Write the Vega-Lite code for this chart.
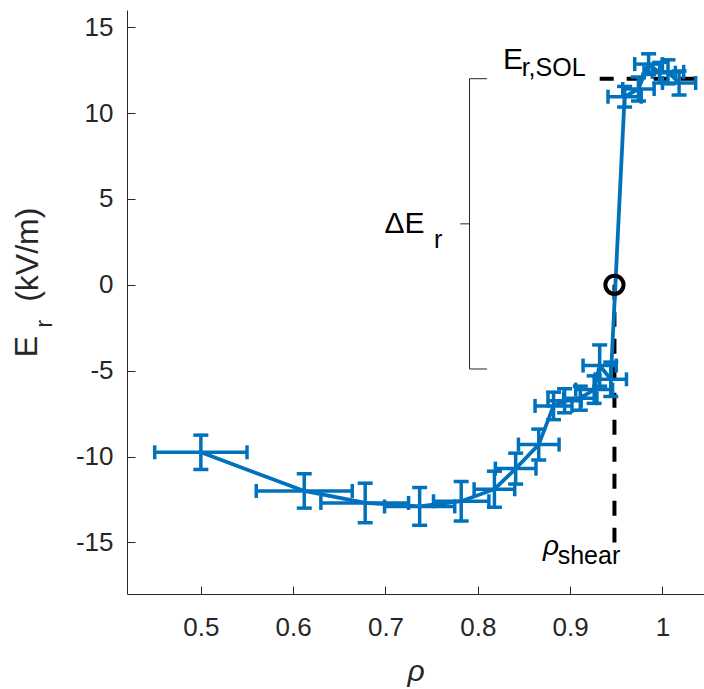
{
  "$schema": "https://vega.github.io/schema/vega-lite/v6.json",
  "width": 577,
  "height": 584,
  "autosize": {"type": "none"},
  "padding": {"left": 127, "top": 10, "right": 0, "bottom": 95},
  "background": "white",
  "config": {
    "view": {"stroke": null},
    "font": "Liberation Sans",
    "axis": {"grid": false, "domainColor": "#262626", "tickColor": "#262626", "labelColor": "#262626", "titleColor": "#262626", "labelFont": "Liberation Sans", "titleFont": "Liberation Sans", "labelFontSize": 26, "domainWidth": 1, "tickWidth": 1}
  },
  "datasets": {
    "er": [
      {"x": 0.500, "y": -9.75, "xlo": 0.450, "xhi": 0.550, "ylo": -10.75, "yhi": -8.75},
      {"x": 0.612, "y": -12.0, "xlo": 0.560, "xhi": 0.664, "ylo": -13.0, "yhi": -11.0},
      {"x": 0.678, "y": -12.7, "xlo": 0.630, "xhi": 0.725, "ylo": -13.85, "yhi": -11.55},
      {"x": 0.737, "y": -12.9, "xlo": 0.699, "xhi": 0.775, "ylo": -14.0, "yhi": -11.8},
      {"x": 0.782, "y": -12.6, "xlo": 0.752, "xhi": 0.812, "ylo": -13.75, "yhi": -11.45},
      {"x": 0.818, "y": -11.9, "xlo": 0.796, "xhi": 0.840, "ylo": -12.95, "yhi": -10.85},
      {"x": 0.841, "y": -10.7, "xlo": 0.819, "xhi": 0.863, "ylo": -11.6, "yhi": -9.8},
      {"x": 0.866, "y": -9.3, "xlo": 0.844, "xhi": 0.888, "ylo": -10.2, "yhi": -8.4},
      {"x": 0.882, "y": -7.05, "xlo": 0.862, "xhi": 0.902, "ylo": -7.85, "yhi": -6.25},
      {"x": 0.894, "y": -6.75, "xlo": 0.876, "xhi": 0.912, "ylo": -7.45, "yhi": -6.05},
      {"x": 0.911, "y": -6.6, "xlo": 0.893, "xhi": 0.929, "ylo": -7.3, "yhi": -5.9},
      {"x": 0.926, "y": -6.1, "xlo": 0.906, "xhi": 0.946, "ylo": -6.9, "yhi": -5.3},
      {"x": 0.932, "y": -4.7, "xlo": 0.914, "xhi": 0.950, "ylo": -5.9, "yhi": -3.5},
      {"x": 0.944, "y": -5.5, "xlo": 0.927, "xhi": 0.961, "ylo": -6.5, "yhi": -4.5},
      {"x": 0.959, "y": 10.95, "xlo": 0.941, "xhi": 0.977, "ylo": 10.35, "yhi": 11.55},
      {"x": 0.974, "y": 11.4, "xlo": 0.957, "xhi": 0.991, "ylo": 10.7, "yhi": 12.1},
      {"x": 0.985, "y": 12.85, "xlo": 0.970, "xhi": 1.000, "ylo": 12.25, "yhi": 13.45},
      {"x": 0.997, "y": 12.35, "xlo": 0.980, "xhi": 1.014, "ylo": 11.75, "yhi": 12.95},
      {"x": 1.006, "y": 12.4, "xlo": 0.989, "xhi": 1.023, "ylo": 11.7, "yhi": 13.1},
      {"x": 1.018, "y": 11.75, "xlo": 1.000, "xhi": 1.036, "ylo": 11.05, "yhi": 12.45}
    ]
  },
  "layer": [
    {
      "mark": {"type": "rule", "color": "#262626", "strokeWidth": 1, "strokeDash": [14, 9]},
      "encoding": {
        "y": {"datum": 0, "type": "quantitative", "scale": {"domain": [-18, 16], "nice": false, "zero": false},
          "axis": {"values": [-15, -10, -5, 0, 5, 10, 15], "labelExpr": "'' + datum.value", "tickSize": -8, "labelPadding": 22, "title": null, "domainColor": "#262626"}}
      }
    },
    {
      "data": {"values": [{"x": 0.948, "y": 0, "y2": -15}]},
      "mark": {"type": "rule", "color": "black", "strokeWidth": 4, "strokeDash": [15, 12]},
      "encoding": {
        "x": {"field": "x", "type": "quantitative", "scale": {"domain": [0.42, 1.045], "nice": false, "zero": false},
          "axis": {"values": [0.5, 0.6, 0.7, 0.8, 0.9, 1], "format": "~g", "tickSize": -8, "labelPadding": 28, "title": "ρ", "titleFontStyle": "italic", "titleFontWeight": "normal", "titleFontSize": 30, "titlePadding": 16}},
        "y": {"field": "y", "type": "quantitative"},
        "y2": {"field": "y2"}
      }
    },
    {
      "data": {"values": [{"x": 0.932, "x2": 1.035, "y": 12}]},
      "mark": {"type": "rule", "color": "black", "strokeWidth": 4, "strokeDash": [14, 13]},
      "encoding": {
        "x": {"field": "x", "type": "quantitative"},
        "x2": {"field": "x2"},
        "y": {"field": "y", "type": "quantitative"}
      }
    },
    {
      "data": {"values": [
        {"x": 0.791, "x2": 0.791, "y": -4.9, "y2": 12},
        {"x": 0.791, "x2": 0.810, "y": 12, "y2": 12},
        {"x": 0.791, "x2": 0.810, "y": -4.9, "y2": -4.9},
        {"x": 0.781, "x2": 0.791, "y": 3.55, "y2": 3.55}
      ]},
      "mark": {"type": "rule", "color": "#262626", "strokeWidth": 1},
      "encoding": {
        "x": {"field": "x", "type": "quantitative"},
        "x2": {"field": "x2"},
        "y": {"field": "y", "type": "quantitative"},
        "y2": {"field": "y2"}
      }
    },
    {
      "data": {"name": "er"},
      "mark": {"type": "rule", "color": "#0072BD", "strokeWidth": 3.5},
      "encoding": {
        "x": {"field": "x", "type": "quantitative"},
        "y": {"field": "ylo", "type": "quantitative"},
        "y2": {"field": "yhi"}
      }
    },
    {
      "data": {"name": "er"},
      "mark": {"type": "rule", "color": "#0072BD", "strokeWidth": 3.5},
      "encoding": {
        "x": {"field": "xlo", "type": "quantitative"},
        "x2": {"field": "xhi"},
        "y": {"field": "y", "type": "quantitative"}
      }
    },
    {
      "data": {"name": "er"},
      "mark": {"type": "tick", "orient": "horizontal", "color": "#0072BD", "size": 15, "thickness": 3.5, "opacity": 1},
      "encoding": {
        "x": {"field": "x", "type": "quantitative"},
        "y": {"field": "ylo", "type": "quantitative"}
      }
    },
    {
      "data": {"name": "er"},
      "mark": {"type": "tick", "orient": "horizontal", "color": "#0072BD", "size": 15, "thickness": 3.5, "opacity": 1},
      "encoding": {
        "x": {"field": "x", "type": "quantitative"},
        "y": {"field": "yhi", "type": "quantitative"}
      }
    },
    {
      "data": {"name": "er"},
      "mark": {"type": "tick", "orient": "vertical", "color": "#0072BD", "size": 14, "thickness": 3.5, "opacity": 1},
      "encoding": {
        "x": {"field": "xlo", "type": "quantitative"},
        "y": {"field": "y", "type": "quantitative"}
      }
    },
    {
      "data": {"name": "er"},
      "mark": {"type": "tick", "orient": "vertical", "color": "#0072BD", "size": 14, "thickness": 3.5, "opacity": 1},
      "encoding": {
        "x": {"field": "xhi", "type": "quantitative"},
        "y": {"field": "y", "type": "quantitative"}
      }
    },
    {
      "data": {"name": "er"},
      "mark": {"type": "line", "color": "#0072BD", "strokeWidth": 3.8},
      "encoding": {
        "x": {"field": "x", "type": "quantitative"},
        "y": {"field": "y", "type": "quantitative"}
      }
    },
    {
      "data": {"values": [{"x": 0.948, "y": 0}]},
      "mark": {"type": "point", "shape": "circle", "filled": false, "color": "black", "strokeWidth": 4, "size": 330, "opacity": 1},
      "encoding": {
        "x": {"field": "x", "type": "quantitative"},
        "y": {"field": "y", "type": "quantitative"}
      }
    },
    {
      "data": {"values": [
        {"x": 0.699, "y": 2.99, "t": "ΔE"},
        {"x": 0.8273, "y": 12.56, "t": "E"}
      ]},
      "mark": {"type": "text", "align": "left", "baseline": "alphabetic", "fontSize": 30, "color": "black", "font": "Liberation Sans"},
      "encoding": {
        "x": {"field": "x", "type": "quantitative"},
        "y": {"field": "y", "type": "quantitative"},
        "text": {"field": "t"}
      }
    },
    {
      "data": {"values": [
        {"x": 0.7526, "y": 2.15, "t": "r"},
        {"x": 0.8475, "y": 12.17, "t": "r,SOL"},
        {"x": 0.8865, "y": -16.25, "t": "shear"}
      ]},
      "mark": {"type": "text", "align": "left", "baseline": "alphabetic", "fontSize": 25, "color": "black", "font": "Liberation Sans"},
      "encoding": {
        "x": {"field": "x", "type": "quantitative"},
        "y": {"field": "y", "type": "quantitative"},
        "text": {"field": "t"}
      }
    },
    {
      "data": {"values": [{"x": 0.8706, "y": -15.72, "t": "ρ"}]},
      "mark": {"type": "text", "align": "left", "baseline": "alphabetic", "fontSize": 28, "fontStyle": "italic", "color": "black", "font": "Liberation Sans"},
      "encoding": {
        "x": {"field": "x", "type": "quantitative"},
        "y": {"field": "y", "type": "quantitative"},
        "text": {"field": "t"}
      }
    },
    {
      "data": {"values": [
        {"x": 0.3115, "y": -3.6, "t": "E"},
        {"x": 0.3125, "y": 1.75, "t": "(kV/m)"}
      ]},
      "mark": {"type": "text", "align": "center", "baseline": "middle", "angle": 270, "fontSize": 32, "color": "#262626", "font": "Liberation Sans"},
      "encoding": {
        "x": {"field": "x", "type": "quantitative"},
        "y": {"field": "y", "type": "quantitative"},
        "text": {"field": "t"}
      }
    },
    {
      "data": {"values": [{"x": 0.331, "y": -2.27, "t": "r"}]},
      "mark": {"type": "text", "align": "center", "baseline": "middle", "angle": 270, "fontSize": 24, "color": "#262626", "font": "Liberation Sans"},
      "encoding": {
        "x": {"field": "x", "type": "quantitative"},
        "y": {"field": "y", "type": "quantitative"},
        "text": {"field": "t"}
      }
    }
  ]
}
